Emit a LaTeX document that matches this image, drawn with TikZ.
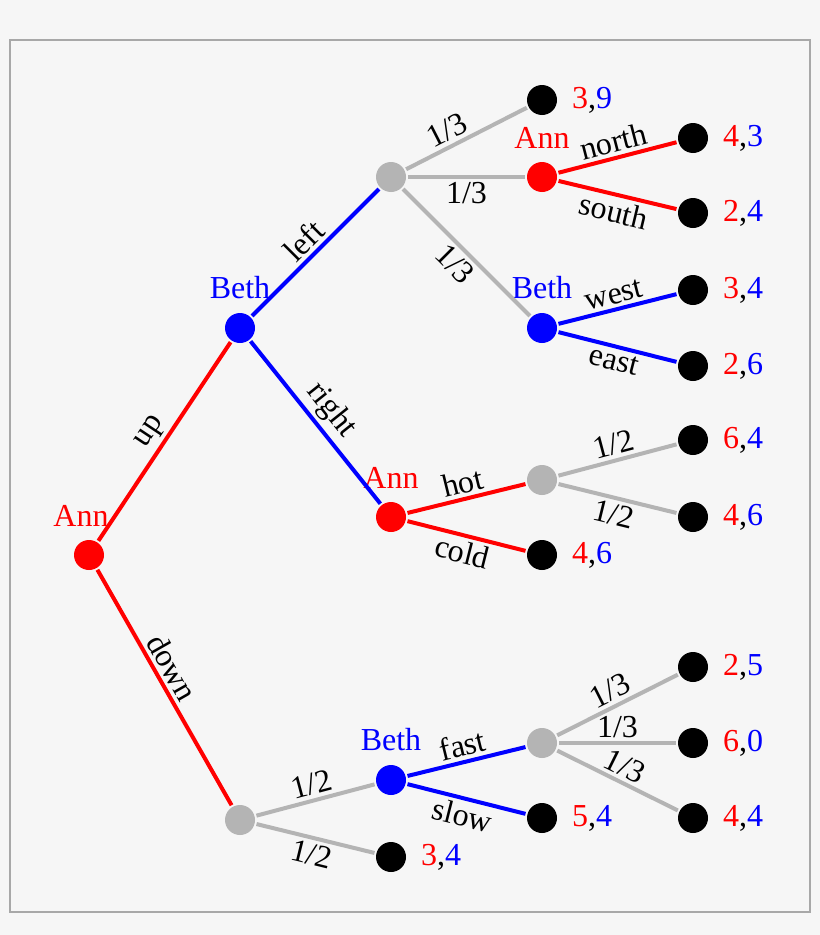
\documentclass[tikz,border=0pt]{standalone}
\usepackage{fontspec}
\setmainfont{Liberation Serif}
\definecolor{bg}{HTML}{F6F6F6}
\definecolor{framegray}{HTML}{A8A8A8}
\definecolor{chancegray}{HTML}{B4B4B4}
\newcommand{\payoff}[2]{\textcolor{red}{#1},\textcolor{blue}{#2}}
\begin{document}
\begin{tikzpicture}[
  x = 0.75pt, y = -0.75pt,
  line width = 3pt,
  font = \fontsize{24}{28}\selectfont,
  dot/.style={circle, inner sep=0pt, minimum size=22.5pt},
  ann/.style={dot, fill=red, label={[red, label distance=4pt]above:Ann}},
  beth/.style={dot, fill=blue, label={[blue, label distance=4pt]above:Beth}},
  chance/.style={dot, fill=chancegray},
  leaf/.style={dot, fill=black, label={[label distance=5pt]right:#1}},
  lab/.style={sloped, inner sep=2.5pt, text=black}]
\useasboundingbox (0,0) rectangle (820,935);
\fill[bg] (0,0) rectangle (820,935);
\draw[framegray, line width=1.5pt] (10,40) rectangle (810,912);
% players and chance nodes
\node[dot, fill=red, label={[red, label distance=4pt, xshift=-6pt]above:Ann}] (root) at (89,555) {};
\node[beth] (bup) at (240,328) {};
\node[chance] (cdown) at (240,820) {};
\node[chance] (cleft) at (391,177) {};
\node[ann] (aright) at (391,517) {};
\node[beth] (bdown) at (391,780) {};
\node[ann] (amid) at (542,177) {};
\node[beth] (blow) at (542,328) {};
\node[chance] (chot) at (542,480) {};
\node[chance] (cfast) at (542,743) {};
% end nodes
\node[leaf=\payoff{3}{9}] (e1) at (542,100) {};
\node[leaf=\payoff{4}{3}] (e2) at (693,138) {};
\node[leaf=\payoff{2}{4}] (e3) at (693,213) {};
\node[leaf=\payoff{3}{4}] (e4) at (693,290) {};
\node[leaf=\payoff{2}{6}] (e5) at (693,366) {};
\node[leaf=\payoff{6}{4}] (e6) at (693,440) {};
\node[leaf=\payoff{4}{6}] (e7) at (693,517) {};
\node[leaf=\payoff{4}{6}] (e8) at (542,555) {};
\node[leaf=\payoff{2}{5}] (e9) at (693,667) {};
\node[leaf=\payoff{6}{0}] (e10) at (693,743) {};
\node[leaf=\payoff{4}{4}] (e11) at (693,818) {};
\node[leaf=\payoff{5}{4}] (e12) at (542,818) {};
\node[leaf=\payoff{3}{4}] (e13) at (391,857) {};
% moves
\draw[red] (root) -- node[lab, above] {up} (bup);
\draw[red] (root) -- node[lab, above, pos=0.45] {down} (cdown);
\draw[blue] (bup) -- node[lab, above] {left} (cleft);
\draw[blue] (bup) -- node[lab, above] {right} (aright);
\draw[chancegray] (cleft) -- node[lab, above, pos=0.4] {1/3} (e1);
\draw[chancegray] (cleft) -- node[lab, below] {1/3} (amid);
\draw[chancegray] (cleft) -- node[lab, below] {1/3} (blow);
\draw[red] (amid) -- node[lab, above] {north} (e2);
\draw[red] (amid) -- node[lab, below] {south} (e3);
\draw[blue] (blow) -- node[lab, above] {west} (e4);
\draw[blue] (blow) -- node[lab, below] {east} (e5);
\draw[red] (aright) -- node[lab, above] {hot} (chot);
\draw[red] (aright) -- node[lab, below] {cold} (e8);
\draw[chancegray] (chot) -- node[lab, above] {1/2} (e6);
\draw[chancegray] (chot) -- node[lab, below] {1/2} (e7);
\draw[chancegray] (cdown) -- node[lab, above] {1/2} (bdown);
\draw[chancegray] (cdown) -- node[lab, below] {1/2} (e13);
\draw[blue] (bdown) -- node[lab, above] {fast} (cfast);
\draw[blue] (bdown) -- node[lab, below] {slow} (e12);
\draw[chancegray] (cfast) -- node[lab, above] {1/3} (e9);
\draw[chancegray] (cfast) -- node[lab, above] {1/3} (e10);
\draw[chancegray] (cfast) -- node[lab, above] {1/3} (e11);
\end{tikzpicture}
\end{document}
